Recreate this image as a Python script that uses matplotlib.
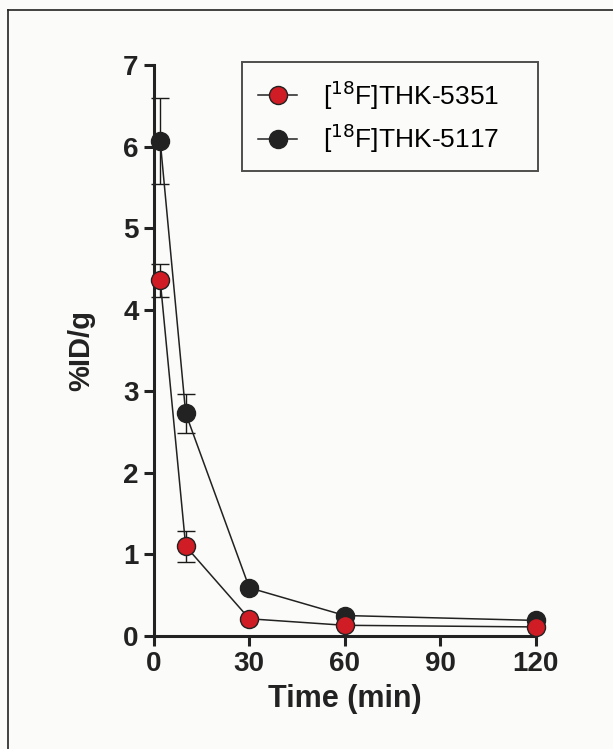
import matplotlib.pyplot as plt
from matplotlib.lines import Line2D

plt.rcParams['font.family'] = ['Liberation Sans', 'DejaVu Sans']

# data (%ID/g, mean and SD)
time_min = [2, 10, 30, 60, 120]
thk5351 = [4.36, 1.10, 0.21, 0.13, 0.11]
thk5351_sd = [0.20, 0.19, 0.02, 0.02, 0.01]
thk5117 = [6.07, 2.73, 0.59, 0.25, 0.19]
thk5117_sd = [0.53, 0.24, 0.03, 0.03, 0.02]

labels = ['[$^{18}$F]THK-5351    ', '[$^{18}$F]THK-5117    ']

fig = plt.figure(figsize=(6.13, 7.49), dpi=100)
fig.patch.set_facecolor('#fbfbf9')
ax = fig.add_axes([0.251, 0.151, 0.623, 0.762])
ax.set_facecolor('none')

# scan frame
fig.add_artist(Line2D([8/613, 8/613], [0, 1 - 10/749], color='#222222', lw=1.2))
fig.add_artist(Line2D([8/613, 1], [1 - 10/749, 1 - 10/749], color='#222222', lw=1.2))

ax.errorbar(time_min, thk5117, yerr=thk5117_sd, fmt='none', ecolor='#1a1a1a',
            elinewidth=1.0, capsize=6.5, capthick=1.0, clip_on=False, zorder=2)
ax.errorbar(time_min, thk5351, yerr=thk5351_sd, fmt='none', ecolor='#1a1a1a',
            elinewidth=1.0, capsize=6.5, capthick=1.0, clip_on=False, zorder=2)
ax.plot(time_min, thk5351, '-o', color='#222222', lw=1.1, ms=13,
        mfc='#d01c24', mec='#222222', mew=1.0, clip_on=False, zorder=4)
ax.plot(time_min, thk5117, '-o', color='#222222', lw=1.1, ms=13,
        mfc='#222222', mec='#222222', mew=1.0, clip_on=False, zorder=3)

ax.set_xlim(0, 120)
ax.set_ylim(0, 7)
ax.set_xticks([0, 30, 60, 90, 120])
ax.set_yticks(range(0, 8))

for s in ['top', 'right']:
    ax.spines[s].set_visible(False)
for s in ['left', 'bottom']:
    ax.spines[s].set_linewidth(2.2)
    ax.spines[s].set_color('#222222')
ax.tick_params(width=2.2, length=7, direction='out', color='#222222',
               labelsize=20, pad=4)
for t in ax.get_xticklabels() + ax.get_yticklabels():
    t.set_fontweight('bold')
    t.set_color('#222222')

ax.set_xlabel('Time (min)', fontsize=22, fontweight='bold', color='#222222', labelpad=5)
ax.set_ylabel('%ID/g', fontsize=21, fontweight='bold', color='#222222', labelpad=20)

handles = [
    Line2D([], [], color='#222222', lw=1.1, marker='o', ms=13, mfc='#d01c24', mec='#222222'),
    Line2D([], [], color='#222222', lw=1.1, marker='o', ms=13, mfc='#222222', mec='#222222'),
]
leg = ax.legend(handles, labels, loc='upper left', bbox_to_anchor=(0.231, 1.005),
                fontsize=19, frameon=True, fancybox=False, edgecolor='#222222',
                handlelength=1.5, borderpad=0.6, labelspacing=0.38, handletextpad=0.95,
                borderaxespad=0)
leg.get_frame().set_linewidth(1.4)
leg.get_frame().set_facecolor('none')

fig.savefig('out.png', dpi=100, facecolor=fig.get_facecolor())
